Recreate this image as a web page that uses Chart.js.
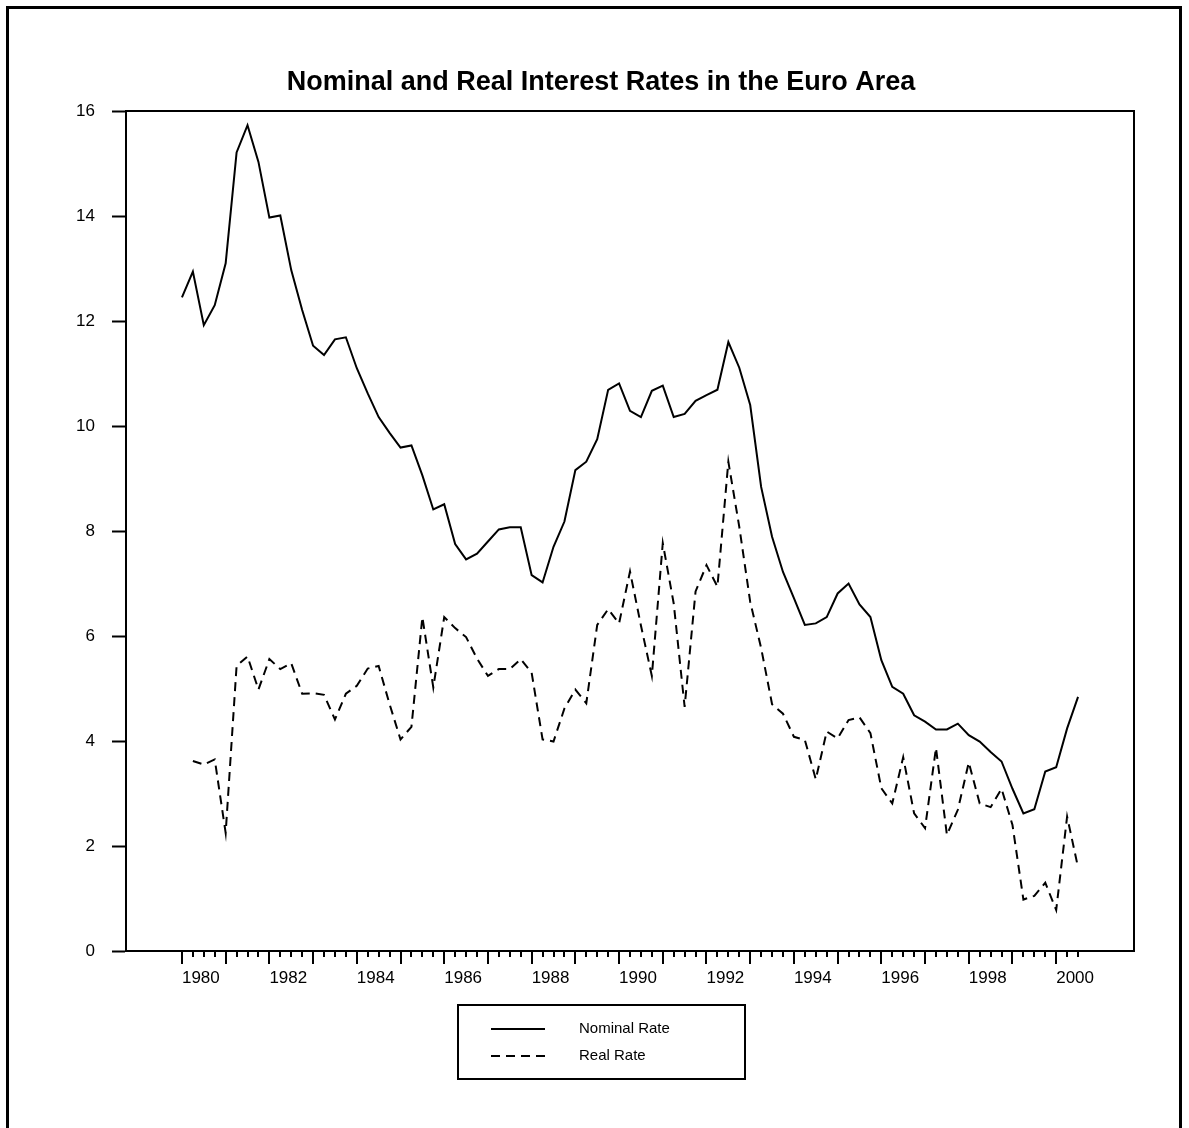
<!DOCTYPE html>
<html>
<head>
<meta charset="utf-8">
<title>Nominal and Real Interest Rates in the Euro Area</title>
<script src="https://cdn.jsdelivr.net/npm/chart.js@4.4.1/dist/chart.umd.min.js"></script>
<style>
  html, body { margin: 0; padding: 0; background: #fff; }
  canvas { display: block; }
</style>
</head>
<body>
<canvas id="ratesChart" width="1189" height="1128"></canvas>
<script>
// quarterly observations, 1980Q1 .. 2000Q3
const startYear = 1980;

const nominalRate = [
  12.45, 12.94, 11.92, 12.30, 13.10, 15.21, 15.73, 15.03, 13.97, 14.01,
  12.97, 12.21, 11.53, 11.35, 11.65, 11.69, 11.10, 10.62, 10.17, 9.87,
  9.59, 9.63, 9.06, 8.41, 8.51, 7.75, 7.46, 7.57, 7.80, 8.03,
  8.07, 8.07, 7.16, 7.02, 7.70, 8.18, 9.16, 9.32, 9.75, 10.69,
  10.81, 10.29, 10.17, 10.67, 10.77, 10.17, 10.23, 10.48, 10.59, 10.69,
  11.60, 11.11, 10.40, 8.84, 7.89, 7.22, 6.72, 6.21, 6.24, 6.36,
  6.81, 7.00, 6.60, 6.36, 5.54, 5.03, 4.90, 4.49, 4.37, 4.22,
  4.22, 4.33, 4.11, 3.99, 3.79, 3.61, 3.09, 2.62, 2.70, 3.42,
  3.50, 4.24, 4.84
];

const realRate = [
  null, 3.62, 3.55, 3.65, 2.25, 5.43, 5.61, 4.98, 5.56, 5.37,
  5.48, 4.90, 4.91, 4.88, 4.41, 4.90, 5.05, 5.38, 5.43, 4.70,
  4.03, 4.27, 6.36, 5.02, 6.36, 6.15, 5.98, 5.57, 5.24, 5.37,
  5.37, 5.56, 5.30, 4.03, 3.99, 4.62, 4.98, 4.72, 6.21, 6.51,
  6.24, 7.23, 6.20, 5.24, 7.77, 6.62, 4.65, 6.85, 7.35, 6.94,
  9.32, 8.08, 6.65, 5.77, 4.70, 4.52, 4.08, 4.02, 3.27, 4.18,
  4.05, 4.40, 4.45, 4.15, 3.10, 2.81, 3.69, 2.62, 2.34, 3.87,
  2.21, 2.69, 3.59, 2.81, 2.74, 3.09, 2.40, 0.98, 1.05, 1.30,
  0.78, 2.56, 1.59
];

const yearLabels = [1980, 1982, 1984, 1986, 1988, 1990, 1992, 1994, 1996, 1998, 2000];
const yTicks = [0, 2, 4, 6, 8, 10, 12, 14, 16];

const FONT = "'Liberation Sans', Arial, sans-serif";
Chart.defaults.font.family = FONT;
Chart.defaults.color = '#000';

const toPoints = arr => arr.map((v, i) => ({ x: startYear + i / 4, y: v }));

// plot box, outer frame, quarterly x ticks and the boxed legend
const framePlugin = {
  id: 'frame',
  afterDraw(chart) {
    const { ctx, chartArea: a } = chart;
    const x = chart.scales.x;
    ctx.save();
    ctx.strokeStyle = '#000';

    ctx.lineWidth = 3;
    ctx.strokeRect(7.5, 7.5, 1173, 1140);

    ctx.lineWidth = 2;
    ctx.strokeRect(a.left, a.top, a.right - a.left, a.bottom - a.top);

    for (let i = 0; i < nominalRate.length; i++) {
      const px = Math.round(x.getPixelForValue(startYear + i / 4));
      const len = i % 4 === 0 ? 13 : 6;
      ctx.beginPath();
      ctx.moveTo(px, a.bottom);
      ctx.lineTo(px, a.bottom + len);
      ctx.stroke();
    }

    // legend
    ctx.lineWidth = 2;
    ctx.strokeRect(458, 1005, 287, 74);
    ctx.font = '15px ' + FONT;
    ctx.fillStyle = '#000';
    ctx.textBaseline = 'middle';
    chart.data.datasets.forEach((ds, k) => {
      const ly = 1029 + k * 27;
      ctx.setLineDash(ds.borderDash || []);
      ctx.lineWidth = ds.borderWidth;
      ctx.strokeStyle = ds.borderColor;
      ctx.beginPath();
      ctx.moveTo(491, ly);
      ctx.lineTo(545, ly);
      ctx.stroke();
      ctx.setLineDash([]);
      ctx.fillText(ds.label, 579, ly);
    });
    ctx.restore();
  }
};

new Chart(document.getElementById('ratesChart'), {
  type: 'line',
  data: {
    datasets: [
      {
        label: 'Nominal Rate',
        data: toPoints(nominalRate),
        borderColor: '#000',
        borderWidth: 2,
        pointRadius: 0,
        tension: 0,
        fill: false
      },
      {
        label: 'Real Rate',
        data: toPoints(realRate),
        borderColor: '#000',
        borderWidth: 2,
        borderDash: [9, 6],
        pointRadius: 0,
        tension: 0,
        fill: false
      }
    ]
  },
  options: {
    responsive: false,
    animation: false,
    devicePixelRatio: 1,
    layout: { padding: { left: 68, right: 55, top: 0, bottom: 0 } },
    plugins: {
      legend: { display: false },
      tooltip: { enabled: false },
      title: {
        display: true,
        text: 'Nominal and Real Interest Rates in the Euro Area',
        font: { size: 27, weight: 'bold' },
        color: '#000',
        padding: { top: 66, bottom: 12.6 }
      }
    },
    scales: {
      x: {
        type: 'linear',
        min: 1978.72,
        max: 2001.78,
        afterBuildTicks: s => { s.ticks = yearLabels.map(v => ({ value: v })); },
        afterFit: s => { s.height = 177; },
        grid: { drawOnChartArea: false, drawTicks: false },
        border: { display: true, color: '#000', width: 2 },
        ticks: {
          autoSkip: false,
          maxRotation: 0,
          align: 'start',
          padding: 17,
          font: { size: 17 },
          callback: v => String(v)
        }
      },
      y: {
        min: 0,
        max: 16,
        afterBuildTicks: s => { s.ticks = yTicks.map(v => ({ value: v })); },
        afterFit: s => { s.width = 58; },
        grid: { drawOnChartArea: false, drawTicks: true, tickLength: 14, tickColor: '#000', tickWidth: 2 },
        border: { display: true, color: '#000', width: 2 },
        ticks: { padding: 17, font: { size: 17 }, callback: v => String(v) }
      }
    }
  },
  plugins: [framePlugin]
});
</script>
</body>
</html>
